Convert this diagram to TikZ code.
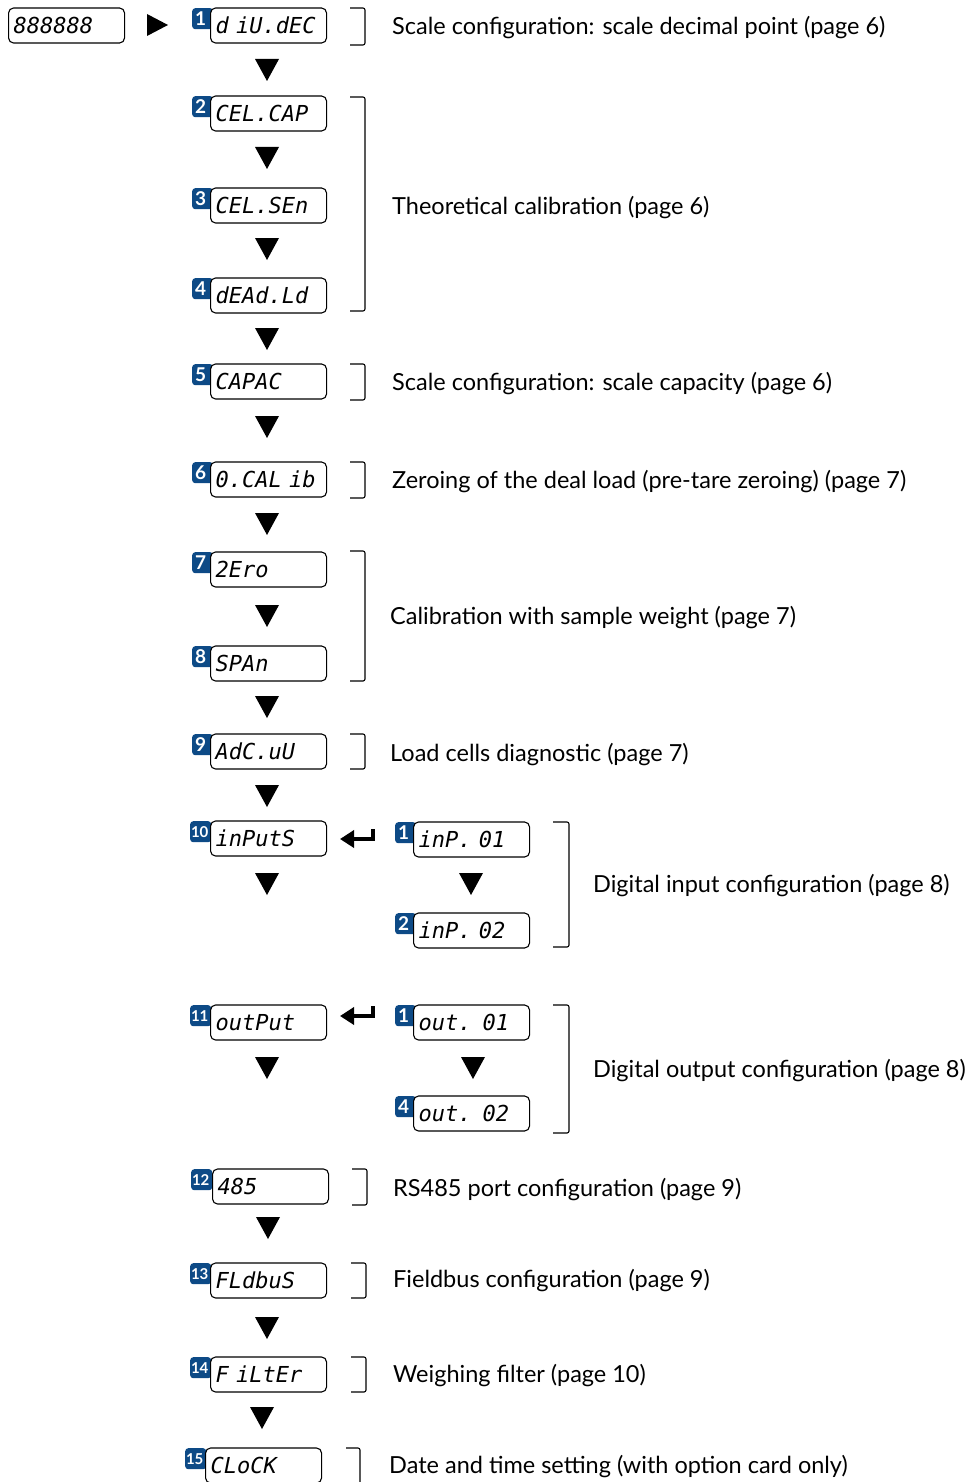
\documentclass[tikz,border=0pt]{standalone}
\usepackage{fontspec}
\setmainfont{Lato}
\newfontfamily\dispfont{DejaVu Sans Mono}
\usetikzlibrary{arrows.meta}
\definecolor{badgeblue}{HTML}{0D4A86}
\tikzset{
  disp/.style={draw, line width=1.1pt, rounded corners=5pt, fill=white,
    minimum width=116pt, minimum height=35pt, text width=106pt, align=left,
    inner xsep=4pt, font=\dispfont\itshape\fontsize{22}{22}\selectfont, anchor=west},
  badge/.style={fill=badgeblue, rounded corners=3pt, minimum width=21pt, minimum height=21pt,
    inner sep=0pt, anchor=north west},
  badgetext/.style={text=white, font=\bfseries\fontsize{19}{19}\selectfont, inner sep=0pt},
  badgetwo/.style={text=white, font=\bfseries\fontsize{15}{15}\selectfont, inner sep=0pt},
  lbl/.style={anchor=west, inner sep=0pt, font=\fontsize{23.5}{23.5}\selectfont},
  brk/.style={line width=1.1pt, rounded corners=2pt},
  ret/.style={line width=4.5pt, -{Triangle[width=17pt,length=14pt]}}
}
\newcommand{\dtri}[2]{\fill (#1-12,#2-11) -- (#1+12,#2-11) -- (#1,#2+11) -- cycle;}
\newcommand{\disp}[6]{% name, badge x, box x, top y, badge number, text
  \node[badge] (#1b) at (#2,#4) {};
  \node[badgetext] at ([xshift=-2pt]#1b.center) {#5};
  \node[disp] (#1) at (#3,#4+17.5) {#6};}
\newcommand{\disptwo}[6]{%
  \node[badge] (#1b) at (#2,#4) {};
  \node[badgetwo] at ([xshift=-1pt]#1b.center) {#5};
  \node[disp] (#1) at (#3,#4+17.5) {#6};}
\newcommand{\brk}[4]{\draw[brk] (#1,#3) -- (#2,#3) -- (#2,#4) -- (#1,#4);}
\begin{document}
\begin{tikzpicture}[x=1pt,y=-1pt]
\useasboundingbox (0,0) rectangle (971,1482);
% start display
\node[disp] (start) at (8,25.5) {888888};
\fill (147,14) -- (168,25) -- (147,36) -- cycle;
% main column
\disp{d1}{192}{210}{8}{1}{d iU.dEC}
\disp{d2}{192}{210}{96}{2}{CEL.CAP}
\disp{d3}{192}{210}{188}{3}{CEL.SEn}
\disp{d4}{192}{210}{278}{4}{dEAd.Ld}
\disp{d5}{192}{210}{364}{5}{CAPAC}
\disp{d6}{192}{210}{462}{6}{0.CAL ib}
\disp{d7}{192}{210}{552}{7}{2Ero}
\disp{d8}{192}{210}{646}{8}{SPAn}
\disp{d9}{192}{210}{734}{9}{AdC.uU}
\disptwo{d10}{190}{210}{821}{10}{ inPutS}
\disptwo{d11}{190}{210}{1005}{11}{outPut}
\disptwo{d12}{191}{212}{1169}{12}{485}
\disptwo{d13}{190}{210}{1263}{13}{FLdbuS}
\disptwo{d14}{190}{210}{1357}{14}{F iLtEr}
\disptwo{d15}{185}{205}{1448}{15}{CLoCK}
% sub boxes
\disp{i1}{395}{413}{822}{1}{ inP. 01}
\disp{i2}{395}{413}{913}{2}{ inP. 02}
\disp{o1}{395}{413}{1005}{1}{out. 01}
\disp{o2}{395}{413}{1096}{4}{out. 02}
% down triangles
\dtri{267}{70}
\dtri{267}{158}
\dtri{267}{249}
\dtri{267}{339}
\dtri{267}{427}
\dtri{267}{524}
\dtri{267}{616}
\dtri{267}{707}
\dtri{267}{796}
\dtri{267}{884}
\dtri{267}{1068}
\dtri{268}{1228}
\dtri{267}{1328}
\dtri{262}{1418}
\dtri{471}{884}
\dtri{473}{1068}
% return arrows
\coordinate (r1s) at (373,829);
\coordinate (r1e) at (340,839);
\draw[ret] (r1s) |- (r1e);
\coordinate (r2s) at (373,1006);
\coordinate (r2e) at (340,1016);
\draw[ret] (r2s) |- (r2e);
% brackets
\brk{350}{365}{8}{45}
\brk{350}{365}{97}{311}
\brk{350}{365}{364}{400}
\brk{350}{365}{462}{498}
\brk{350}{365}{551}{681}
\brk{350}{365}{734}{769}
\brk{553}{569}{822}{947}
\brk{553}{569}{1005}{1133}
\brk{352}{367}{1169}{1205}
\brk{351}{366}{1263}{1298}
\brk{351}{366}{1357}{1392}
\brk{346}{360}{1448}{1495}
% labels
\node[lbl] (l1) at (392,28) {Scale configuration: scale decimal point (page 6)};
\node[lbl] (l2) at (392,208) {Theoretical calibration (page 6)};
\node[lbl] (l5) at (392,384) {Scale configuration: scale capacity (page 6)};
\node[lbl] (l6) at (392,482) {Zeroing of the deal load (pre-tare zeroing) (page 7)};
\node[lbl] (l7) at (390,618) {Calibration with sample weight (page 7)};
\node[lbl] (l9) at (390,755) {Load cells diagnostic (page 7)};
\node[lbl] (li) at (593,886) {Digital input configuration (page 8)};
\node[lbl] (lo) at (593,1071) {Digital output configuration (page 8)};
\node[lbl] (l12) at (393,1190) {RS485 port configuration (page 9)};
\node[lbl] (l13) at (393,1281) {Fieldbus configuration (page 9)};
\node[lbl] (l14) at (393,1376) {Weighing filter (page 10)};
\node[lbl] (l15) at (389,1467) {Date and time setting (with option card only)};
\end{tikzpicture}
\end{document}
